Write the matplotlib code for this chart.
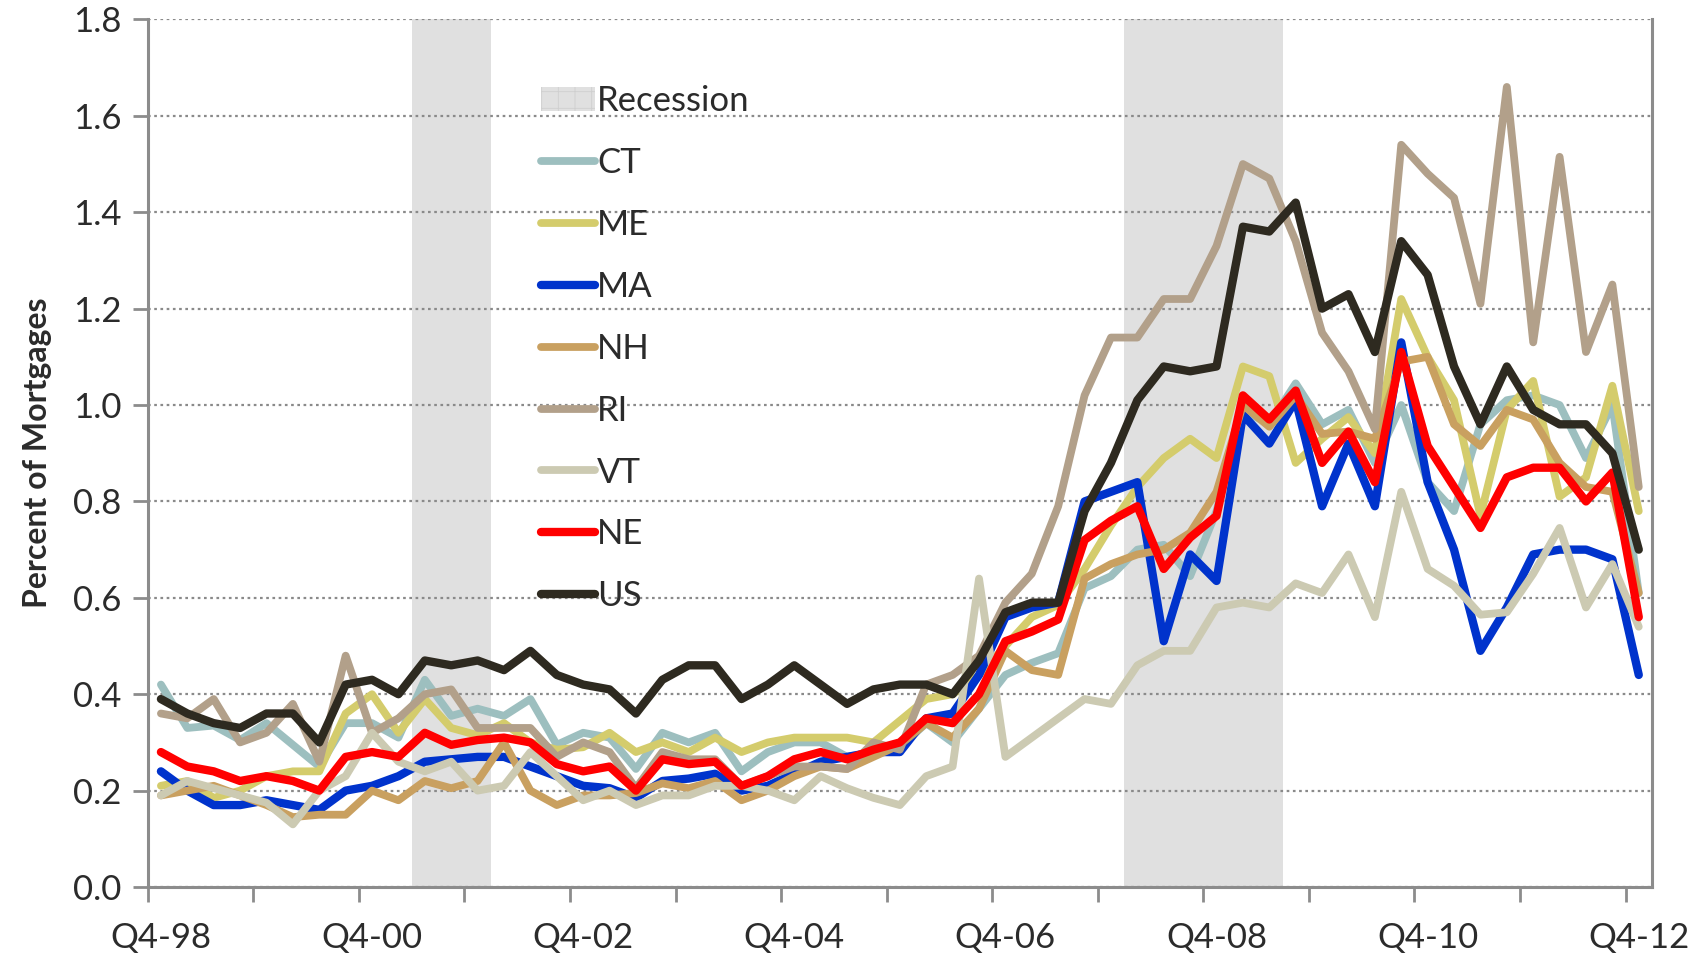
import matplotlib
matplotlib.use("Agg")
import matplotlib.pyplot as plt
from matplotlib.patches import Patch

plt.rcParams['font.family'] = ['Lato', 'DejaVu Sans']
plt.rcParams['hatch.color'] = '#cfcfcf'
plt.rcParams['hatch.linewidth'] = 0.6

# quarterly, Q4-98 .. Q4-12 (57 quarters)
tick_labels = ["Q4-98", "Q4-00", "Q4-02", "Q4-04", "Q4-06", "Q4-08", "Q4-10", "Q4-12"]

ct = [0.42, 0.33, 0.335, 0.305, 0.34, 0.295, 0.25, 0.34, 0.34, 0.31,
      0.43, 0.355, 0.37, 0.355, 0.39, 0.295, 0.32, 0.31, 0.245, 0.32,
      0.30, 0.32, 0.24, 0.28, 0.30, 0.30, 0.27, 0.28, 0.29, 0.34,
      0.30, 0.37, 0.44, 0.465, 0.485, 0.62, 0.645, 0.70, 0.71, 0.645,
      0.78, 0.99, 0.96, 1.045, 0.96, 0.99, 0.88, 1.00, 0.84, 0.78,
      0.96, 1.01, 1.02, 1.00, 0.89, 1.00, 0.61]
me = [0.21, 0.22, 0.185, 0.20, 0.23, 0.24, 0.24, 0.36, 0.40, 0.32,
      0.39, 0.33, 0.315, 0.34, 0.30, 0.285, 0.29, 0.32, 0.28, 0.30,
      0.28, 0.31, 0.28, 0.30, 0.31, 0.31, 0.31, 0.30, 0.345, 0.39,
      0.40, 0.44, 0.50, 0.56, 0.585, 0.66, 0.75, 0.83, 0.89, 0.93,
      0.89, 1.08, 1.06, 0.88, 0.93, 0.975, 0.90, 1.22, 1.10, 1.01,
      0.77, 0.99, 1.05, 0.81, 0.85, 1.04, 0.78]
ma = [0.24, 0.20, 0.17, 0.17, 0.18, 0.17, 0.16, 0.20, 0.21, 0.23,
      0.26, 0.265, 0.27, 0.27, 0.25, 0.23, 0.21, 0.205, 0.185, 0.22,
      0.225, 0.235, 0.20, 0.21, 0.235, 0.26, 0.27, 0.28, 0.28, 0.35,
      0.36, 0.44, 0.56, 0.58, 0.59, 0.80, 0.82, 0.84, 0.51, 0.69,
      0.635, 0.98, 0.92, 1.01, 0.79, 0.92, 0.79, 1.13, 0.84, 0.70,
      0.49, 0.58, 0.69, 0.70, 0.70, 0.68, 0.44]
nh = [0.19, 0.20, 0.21, 0.19, 0.17, 0.145, 0.15, 0.15, 0.20, 0.18,
      0.22, 0.205, 0.22, 0.30, 0.20, 0.17, 0.19, 0.19, 0.195, 0.215,
      0.205, 0.22, 0.18, 0.20, 0.23, 0.25, 0.245, 0.27, 0.295, 0.34,
      0.31, 0.37, 0.49, 0.45, 0.44, 0.64, 0.67, 0.69, 0.70, 0.735,
      0.82, 1.00, 0.955, 1.02, 0.94, 0.945, 0.93, 1.09, 1.10, 0.96,
      0.915, 0.99, 0.97, 0.88, 0.83, 0.82, 0.61]
ri = [0.36, 0.35, 0.39, 0.30, 0.32, 0.38, 0.26, 0.48, 0.32, 0.35,
      0.40, 0.41, 0.33, 0.33, 0.33, 0.27, 0.30, 0.28, 0.205, 0.28,
      0.265, 0.265, 0.21, 0.23, 0.25, 0.25, 0.245, 0.30, 0.285, 0.42,
      0.44, 0.48, 0.59, 0.65, 0.79, 1.02, 1.14, 1.14, 1.22, 1.22,
      1.33, 1.50, 1.47, 1.34, 1.15, 1.07, 0.95, 1.54, 1.48, 1.43,
      1.21, 1.66, 1.13, 1.515, 1.11, 1.25, 0.83]
vt = [0.19, 0.22, 0.205, 0.19, 0.175, 0.13, 0.20, 0.23, 0.32, 0.26,
      0.24, 0.26, 0.20, 0.21, 0.28, 0.23, 0.18, 0.20, 0.17, 0.19,
      0.19, 0.21, 0.21, 0.20, 0.18, 0.23, 0.205, 0.185, 0.17, 0.23,
      0.25, 0.64, 0.27, 0.31, 0.35, 0.39, 0.38, 0.46, 0.49, 0.49,
      0.58, 0.59, 0.58, 0.63, 0.61, 0.69, 0.56, 0.82, 0.66, 0.625,
      0.565, 0.57, 0.65, 0.745, 0.58, 0.67, 0.54]
ne = [0.28, 0.25, 0.24, 0.22, 0.23, 0.22, 0.20, 0.27, 0.28, 0.27,
      0.32, 0.295, 0.305, 0.31, 0.30, 0.255, 0.24, 0.25, 0.20, 0.265,
      0.255, 0.26, 0.21, 0.23, 0.265, 0.28, 0.265, 0.285, 0.30, 0.35,
      0.34, 0.40, 0.51, 0.53, 0.555, 0.72, 0.76, 0.79, 0.66, 0.725,
      0.77, 1.02, 0.97, 1.03, 0.88, 0.945, 0.84, 1.11, 0.915, 0.83,
      0.745, 0.85, 0.87, 0.87, 0.80, 0.86, 0.56]
us = [0.39, 0.36, 0.34, 0.33, 0.36, 0.36, 0.30, 0.42, 0.43, 0.40,
      0.47, 0.46, 0.47, 0.45, 0.49, 0.44, 0.42, 0.41, 0.36, 0.43,
      0.46, 0.46, 0.39, 0.42, 0.46, 0.42, 0.38, 0.41, 0.42, 0.42,
      0.40, 0.47, 0.57, 0.59, 0.59, 0.78, 0.88, 1.01, 1.08, 1.07,
      1.08, 1.37, 1.36, 1.42, 1.20, 1.23, 1.11, 1.34, 1.27, 1.08,
      0.96, 1.08, 0.99, 0.96, 0.96, 0.90, 0.70]

# recessions as (first quarter index, last quarter index)
recessions = [(10, 12), (37, 42)]

series = [("CT", ct, "#9dbfbf", 5.6),
          ("ME", me, "#d4cc6c", 5.6),
          ("MA", ma, "#0033cc", 6),
          ("NH", nh, "#c9a060", 5.6),
          ("RI", ri, "#b2a08a", 5.6),
          ("VT", vt, "#cccab2", 5.6),
          ("NE", ne, "#ff0000", 6),
          ("US", us, "#2e2a20", 6)]

fig = plt.figure(figsize=(17.02, 9.63), dpi=100)
ax = fig.add_axes([0.0868, 0.0789, 0.8838, 0.9009])

n = len(us)
x = list(range(n))

for a, b in recessions:
    ax.axvspan(a - 0.5, b + 0.5, facecolor='#e0e0e0', edgecolor='none', zorder=0)

handles = [Patch(facecolor='#e0e0e0', edgecolor='#cfcfcf', hatch='+', linewidth=0, label='Recession')]
for name, vals, col, lw in series:
    h, = ax.plot(x, vals, color=col, lw=lw, label=name, zorder=3, solid_capstyle='round')
    handles.append(h)

ax.set_xlim(-0.5, n - 0.5)
ax.set_ylim(0, 1.8)
ax.set_yticks([i * 0.2 for i in range(10)])
ax.set_yticklabels([f"{i * 0.2:.1f}" for i in range(10)])
ax.yaxis.grid(True, color='#8a8a8a', linestyle=(0, (1.2, 1.6)), linewidth=1.6)
ax.set_axisbelow(True)

ax.set_xticks(list(range(0, n, 8)))
ax.set_xticklabels(tick_labels)
ax.set_xticks([k - 0.5 for k in range(0, n, 4)], minor=True)
ax.tick_params(axis='x', which='major', length=0, pad=25, labelsize=25, labelcolor='#2b2b2b')
ax.tick_params(axis='x', which='minor', length=11, width=2, color='#8c8c8c', direction='out')
ax.tick_params(axis='y', length=11, width=2, color='#8c8c8c', labelsize=25, labelcolor='#2b2b2b', pad=8)

for s in ['left', 'bottom', 'right']:
    ax.spines[s].set_color('#8c8c8c')
    ax.spines[s].set_linewidth(2.2)
ax.spines['top'].set_visible(False)

ax.set_ylabel('Percent of Mortgages', fontsize=23, fontweight='bold', color='#2b2b2b', labelpad=15)

ax.legend(handles=handles, loc='upper left', bbox_to_anchor=(0.252, 0.94), frameon=False,
          fontsize=25, handlelength=1.55, handletextpad=0.08, labelspacing=0.86, borderaxespad=0,
          labelcolor='#2b2b2b')

fig.savefig('out.png', dpi=100, facecolor='white')
